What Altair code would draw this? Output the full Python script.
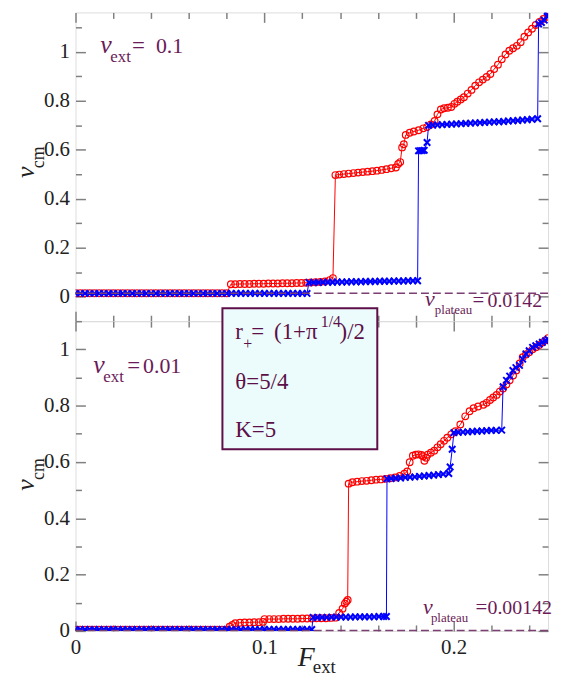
import altair as alt
import pandas as pd

FONT = "Liberation Serif"
PURPLE = "#6a1b58"
BOX_EDGE = "#5c0f48"
DASH = "#7b3f72"
RED = "#ff0000"
BLUE = "#0000ff"
AXIS_GRAY = "#808080"
LABEL = "#222222"

# ---------------- data ----------------
# top panel (v_ext = 0.1)
TOP_RED_F = [0, 0.0025, 0.005, 0.0075, 0.01, 0.0125, 0.015, 0.0175, 0.02, 0.0225, 0.025, 0.0275,
             0.03, 0.0325, 0.035, 0.0375, 0.04, 0.0425, 0.045, 0.0475, 0.05, 0.0525, 0.055, 0.0575,
             0.06, 0.0625, 0.065, 0.0675, 0.07, 0.0725, 0.075, 0.0775, 0.08,
             0.0822, 0.0845, 0.087, 0.0895, 0.092, 0.0945, 0.097, 0.0995, 0.102, 0.1045, 0.107,
             0.1095, 0.112, 0.1145, 0.117, 0.1195, 0.122, 0.1245, 0.127, 0.1295, 0.132, 0.1345, 0.1362,
             0.1375, 0.1395, 0.142, 0.1445, 0.147, 0.1495, 0.152, 0.1545, 0.157, 0.1595, 0.162, 0.1645,
             0.167, 0.1695, 0.1707, 0.1718, 0.1728, 0.1737, 0.1747, 0.1768, 0.179, 0.1815, 0.184, 0.186,
             0.188, 0.190, 0.1915, 0.1933, 0.195, 0.197, 0.1988, 0.2005, 0.202, 0.2038, 0.2055, 0.2075,
             0.2095, 0.2115, 0.2135, 0.2155, 0.2175, 0.2195, 0.2215, 0.2235, 0.2255, 0.2275, 0.2295,
             0.2315, 0.2335, 0.2355, 0.2375, 0.2395, 0.2415, 0.2435, 0.2455, 0.2475, 0.25]
TOP_RED_V = [0.014, 0.014, 0.014, 0.014, 0.014, 0.014, 0.014, 0.014, 0.014, 0.014, 0.014, 0.014,
             0.014, 0.014, 0.014, 0.014, 0.014, 0.014, 0.014, 0.014, 0.014, 0.014, 0.014, 0.014,
             0.014, 0.014, 0.014, 0.014, 0.014, 0.014, 0.014, 0.014, 0.014,
             0.051, 0.051, 0.052, 0.052, 0.052, 0.053, 0.053, 0.053, 0.054, 0.054, 0.054,
             0.055, 0.055, 0.055, 0.056, 0.056, 0.057, 0.058, 0.059, 0.060, 0.062, 0.068, 0.076,
             0.497, 0.499, 0.501, 0.503, 0.505, 0.507, 0.509, 0.511, 0.513, 0.515, 0.518, 0.521,
             0.525, 0.528, 0.542, 0.55, 0.61, 0.623, 0.661, 0.67, 0.675, 0.68, 0.688, 0.693,
             0.704, 0.718, 0.745, 0.765, 0.77, 0.772, 0.775, 0.788, 0.797, 0.806, 0.815, 0.83,
             0.845, 0.862, 0.876, 0.887, 0.898, 0.91, 0.93, 0.948, 0.97, 0.99, 1.005,
             1.015, 1.025, 1.04, 1.062, 1.08, 1.095, 1.11, 1.123, 1.135, 1.144]

TOP_BLUE_F = [0, 0.0025, 0.005, 0.0075, 0.01, 0.0125, 0.015, 0.0175, 0.02, 0.0225, 0.025, 0.0275,
              0.03, 0.0325, 0.035, 0.0375, 0.04, 0.0425, 0.045, 0.0475, 0.05, 0.0525, 0.055, 0.0575,
              0.06, 0.0625, 0.065, 0.0675, 0.07, 0.0725, 0.075, 0.0775, 0.08, 0.0825, 0.085, 0.0875,
              0.09, 0.0925, 0.095, 0.0975, 0.1, 0.1025, 0.105, 0.1075, 0.11, 0.1125, 0.115, 0.1175,
              0.12, 0.1225,
              0.1235, 0.126, 0.1285, 0.131, 0.1335, 0.136, 0.1385, 0.141, 0.1435, 0.146, 0.1485, 0.151,
              0.1535, 0.156, 0.1585, 0.161, 0.1635, 0.166, 0.1685, 0.171, 0.1735, 0.176, 0.1785, 0.181,
              0.1815, 0.1825, 0.1835, 0.1845, 0.186, 0.1868,
              0.189, 0.1915, 0.194, 0.1965, 0.199, 0.2015, 0.204, 0.2065, 0.209, 0.2115, 0.214, 0.2165,
              0.219, 0.2215, 0.224, 0.2265, 0.229, 0.2315, 0.234, 0.2365, 0.239, 0.2415, 0.2445,
              0.245, 0.2465, 0.248, 0.2495, 0.25]
TOP_BLUE_V = [0.0135, 0.0135, 0.0135, 0.0135, 0.0135, 0.0135, 0.0135, 0.0135, 0.0135, 0.0135, 0.0135, 0.0135,
              0.0135, 0.0135, 0.0135, 0.0135, 0.0135, 0.0135, 0.0135, 0.0135, 0.0135, 0.0135, 0.0135, 0.0135,
              0.0135, 0.0135, 0.0135, 0.0135, 0.0135, 0.0135, 0.0135, 0.0135, 0.0135, 0.0135, 0.0135, 0.0135,
              0.0135, 0.0135, 0.0135, 0.0135, 0.0135, 0.0135, 0.0135, 0.0135, 0.0135, 0.0135, 0.0135, 0.0135,
              0.0135, 0.0135,
              0.058, 0.058, 0.058, 0.059, 0.059, 0.059, 0.06, 0.06, 0.06, 0.061, 0.061, 0.061,
              0.062, 0.062, 0.062, 0.063, 0.063, 0.063, 0.064, 0.064, 0.064, 0.065, 0.065, 0.065,
              0.596, 0.597, 0.597, 0.598, 0.63, 0.70,
              0.701, 0.702, 0.703, 0.704, 0.705, 0.706, 0.707, 0.708, 0.709, 0.71, 0.711, 0.712,
              0.713, 0.714, 0.715, 0.716, 0.718, 0.719, 0.72, 0.722, 0.723, 0.725, 0.727,
              1.114, 1.12, 1.13, 1.145, 1.15]

# bottom panel (v_ext = 0.01)
BOT_RED_F = [0, 0.0025, 0.005, 0.0075, 0.01, 0.0125, 0.015, 0.0175, 0.02, 0.0225, 0.025, 0.0275,
             0.03, 0.0325, 0.035, 0.0375, 0.04, 0.0425, 0.045, 0.0475, 0.05, 0.0525, 0.055, 0.0575,
             0.06, 0.0625, 0.065, 0.0675, 0.07, 0.0725, 0.075, 0.0775, 0.08,
             0.0815, 0.083, 0.0845, 0.087, 0.0895, 0.092, 0.0945, 0.097, 0.0992,
             0.1, 0.1025, 0.105, 0.1075, 0.11, 0.1125, 0.115, 0.1175, 0.12, 0.1225, 0.125, 0.1275,
             0.13, 0.1325, 0.135, 0.1375, 0.1395, 0.1413, 0.1425, 0.1433, 0.144,
             0.1445, 0.1465, 0.149, 0.1515, 0.154, 0.1565, 0.159, 0.1615, 0.164, 0.1665, 0.169, 0.1715,
             0.174, 0.1755, 0.1768, 0.1785, 0.18, 0.1815, 0.183, 0.1838, 0.1846, 0.1855, 0.1863, 0.188,
             0.1898, 0.1915, 0.1932, 0.195, 0.1967, 0.1988, 0.201, 0.2036, 0.2062, 0.2085, 0.2106, 0.213,
             0.2158, 0.2175, 0.2193, 0.221, 0.2228, 0.2245, 0.2262, 0.228, 0.2297, 0.2315, 0.2332, 0.235,
             0.2366, 0.2383, 0.24, 0.2418, 0.2436, 0.2453, 0.247, 0.2485, 0.25]
BOT_RED_V = [0.004, 0.004, 0.004, 0.004, 0.004, 0.004, 0.004, 0.004, 0.004, 0.004, 0.004, 0.004,
             0.004, 0.004, 0.004, 0.004, 0.004, 0.004, 0.004, 0.004, 0.004, 0.004, 0.004, 0.004,
             0.004, 0.004, 0.004, 0.004, 0.004, 0.004, 0.004, 0.004, 0.004,
             0.015, 0.021, 0.027, 0.029, 0.030, 0.030, 0.031, 0.031, 0.032,
             0.042, 0.042, 0.042, 0.042, 0.043, 0.043, 0.043, 0.043, 0.044, 0.044, 0.044, 0.045,
             0.045, 0.045, 0.046, 0.047, 0.064, 0.079, 0.097, 0.104, 0.11,
             0.523, 0.528, 0.53, 0.532, 0.533, 0.535, 0.537, 0.538, 0.54, 0.542, 0.545, 0.55,
             0.558, 0.566, 0.599, 0.622, 0.626, 0.627, 0.625, 0.62, 0.604, 0.615, 0.626, 0.633,
             0.64, 0.652, 0.663, 0.675, 0.686, 0.698, 0.709, 0.733, 0.762, 0.78, 0.791, 0.797,
             0.803, 0.81, 0.82, 0.829, 0.838, 0.85, 0.861, 0.875, 0.89, 0.907, 0.925, 0.95,
             0.972, 0.982, 0.99, 1.0, 1.007, 1.015, 1.024, 1.032, 1.04]

BOT_BLUE_F = [0, 0.0025, 0.005, 0.0075, 0.01, 0.0125, 0.015, 0.0175, 0.02, 0.0225, 0.025, 0.0275,
              0.03, 0.0325, 0.035, 0.0375, 0.04, 0.0425, 0.045, 0.0475, 0.05, 0.0525, 0.055, 0.0575,
              0.06, 0.0625, 0.065, 0.0675, 0.07, 0.0725, 0.075, 0.0775, 0.08, 0.0825, 0.085, 0.0875,
              0.09, 0.0925, 0.095, 0.0975, 0.1, 0.1025, 0.105, 0.1075, 0.11, 0.1125, 0.115, 0.1175,
              0.12, 0.1225, 0.125,
              0.1257, 0.128, 0.1305, 0.133, 0.1355, 0.138, 0.1405, 0.143, 0.1455, 0.148, 0.1505, 0.153,
              0.1555, 0.158, 0.1605, 0.163, 0.1645,
              0.1648, 0.167, 0.1695, 0.172, 0.1745, 0.177, 0.1795, 0.182, 0.1845, 0.187, 0.1895, 0.192,
              0.1945, 0.1975, 0.1982, 0.1993, 0.2002,
              0.2025, 0.205, 0.2075, 0.21, 0.2125, 0.215, 0.2175, 0.22, 0.2225, 0.2255,
              0.2262, 0.228, 0.2297, 0.2314, 0.233, 0.2349, 0.2366, 0.2383, 0.24, 0.2418, 0.2435,
              0.2453, 0.247, 0.2487, 0.25]
BOT_BLUE_V = [0.005, 0.005, 0.005, 0.005, 0.005, 0.005, 0.005, 0.005, 0.005, 0.005, 0.005, 0.005,
              0.005, 0.005, 0.005, 0.005, 0.005, 0.005, 0.005, 0.005, 0.005, 0.005, 0.005, 0.005,
              0.005, 0.005, 0.005, 0.005, 0.005, 0.005, 0.005, 0.005, 0.005, 0.005, 0.005, 0.005,
              0.005, 0.005, 0.005, 0.005, 0.005, 0.005, 0.005, 0.005, 0.005, 0.005, 0.005, 0.005,
              0.005, 0.005, 0.005,
              0.048, 0.048, 0.048, 0.048, 0.049, 0.049, 0.049, 0.049, 0.049, 0.05, 0.05, 0.05,
              0.05, 0.05, 0.051, 0.051, 0.051,
              0.54, 0.541, 0.542, 0.543, 0.545, 0.546, 0.547, 0.549, 0.55, 0.552, 0.553, 0.555,
              0.557, 0.559, 0.582, 0.645, 0.704,
              0.705, 0.706, 0.707, 0.708, 0.709, 0.71, 0.711, 0.712, 0.712, 0.713,
              0.867, 0.89, 0.905, 0.925, 0.935, 0.943, 0.965, 0.984, 0.995, 1.007, 1.013,
              1.019, 1.025, 1.03, 1.035]

V_PLATEAU_TOP = [0.0142]
V_PLATEAU_BOT = [0.00142]

X_DOMAIN = [0, 0.25]
Y_DOMAIN_TOP = [-0.1, 1.1615]
Y_DOMAIN_BOT = [0, 1.1]
X_MAJOR = [0, 0.1, 0.2]
X_MINOR = [0.02, 0.04, 0.06, 0.08, 0.12, 0.14, 0.16, 0.18, 0.22, 0.24]
Y_MAJOR = [0, 0.2, 0.4, 0.6, 0.8, 1.0]
Y_MINOR = [0.1, 0.3, 0.5, 0.7, 0.9, 1.1]

W = 476
H_TOP = 311
H_BOT = 312

ONE = pd.DataFrame({"k": [0]})


def txt(s, x, y, size, italic=False, color=PURPLE, angle=0, align="left", baseline="alphabetic"):
    kw = dict(text=s, font=FONT, fontSize=size, color=color, align=align, baseline=baseline)
    if italic:
        kw["fontStyle"] = "italic"
    if angle:
        kw["angle"] = angle
    return alt.Chart(ONE).mark_text(**kw).encode(x=alt.value(x), y=alt.value(y))


def make_axis(orient, values, size, labels):
    return alt.Axis(orient=orient, values=values, tickSize=size, offset=-size, domain=False,
                    grid=False, labels=labels, title=None, tickColor=AXIS_GRAY, tickWidth=1.5,
                    labelFont=FONT, labelFontSize=21, labelColor=LABEL, labelPadding=6,
                    labelFlush=False, format=".1~f")


def panel(rf, rv, bf, bv, plateau, ydom, h, x_labels, extras):
    red = pd.DataFrame({"F": rf, "v": rv, "i": list(range(len(rf)))})
    blue = pd.DataFrame({"F": bf, "v": bv, "i": list(range(len(bf)))})
    xs = alt.Scale(domain=X_DOMAIN, nice=False, zero=False)
    ys = alt.Scale(domain=ydom, nice=False, zero=False)

    red_line = alt.Chart(red).mark_line(color=RED, strokeWidth=1, clip=True).encode(
        x=alt.X("F:Q", scale=xs, axis=make_axis("bottom", X_MAJOR, 10, x_labels)),
        y=alt.Y("v:Q", scale=ys, axis=make_axis("left", Y_MAJOR, 10, True)),
        order="i:Q")
    red_pts = alt.Chart(red).mark_point(shape="circle", filled=False, color=RED, size=45,
                                        strokeWidth=1.2, opacity=1, clip=True).encode(
        x=alt.X("F:Q", scale=xs, axis=make_axis("bottom", X_MINOR, 6, False)),
        y=alt.Y("v:Q", scale=ys, axis=make_axis("left", Y_MINOR, 6, False)))
    blue_line = alt.Chart(blue).mark_line(color=BLUE, strokeWidth=1, clip=True).encode(
        x=alt.X("F:Q", scale=xs, axis=make_axis("top", X_MAJOR, 10, False)),
        y=alt.Y("v:Q", scale=ys, axis=make_axis("right", Y_MAJOR, 10, False)),
        order="i:Q")
    blue_pts = alt.Chart(blue).mark_point(shape="M-1,-1L1,1M-1,1L1,-1", filled=False, color=BLUE,
                                          size=42, strokeWidth=2, opacity=1, clip=True).encode(
        x=alt.X("F:Q", scale=xs, axis=make_axis("top", X_MINOR, 6, False)),
        y=alt.Y("v:Q", scale=ys, axis=make_axis("right", Y_MINOR, 6, False)))
    dash = alt.Chart(pd.DataFrame({"v": plateau})).mark_rule(
        color=DASH, strokeWidth=1.5, strokeDash=[8, 4]).encode(
        y=alt.Y("v:Q", scale=ys, axis=None))
    layers = [red_line, red_pts, blue_line, blue_pts, dash] + extras
    return alt.layer(*layers).resolve_axis(x="independent", y="independent").properties(
        width=W, height=h)


top_extras = [
    txt("v", 25, 41, 26, italic=True),
    txt("ext", 35, 50, 17),
    txt("=", 57, 41, 23),
    txt("0.1", 81, 41, 22),
    txt("v", 352, 296, 22, italic=True),
    txt("plateau", 362, 304, 13),
    txt("=", 400, 297, 21),
    txt("0.0142", 415, 297, 20),
    txt("v", -42, 161, 26, italic=True, color=LABEL, angle=270, align="center"),
    txt("cm", -32, 146, 18, color=LABEL, angle=270, align="center"),
]

box = alt.Chart(ONE).mark_rect(fill="#ecfcfc", stroke=BOX_EDGE, strokeWidth=2).encode(
    x=alt.value(148), x2=alt.value(304), y=alt.value(-13), y2=alt.value(129))

bot_extras = [
    txt("v", 18, 52, 26, italic=True),
    txt("ext", 28, 61, 17),
    txt("=", 52, 52, 23),
    txt("0.01", 68, 52, 22),
    txt("v", 350, 295, 22, italic=True),
    txt("plateau", 358, 303, 13),
    txt("=", 403, 295, 21),
    txt("0.00142", 415, 295, 20),
    box,
    txt("r", 161, 18, 23, color=BOX_EDGE),
    txt("+", 169, 28, 16, color=BOX_EDGE),
    txt("=", 177, 18, 23, color=BOX_EDGE),
    txt("(1+π", 200, 18, 23, color=BOX_EDGE),
    txt("1/4", 247, 6, 16, color=BOX_EDGE),
    txt(")/2", 266, 18, 23, color=BOX_EDGE),
    txt("θ=5/4", 161, 68, 23, color=BOX_EDGE),
    txt("K=5", 161, 117, 23, color=BOX_EDGE),
    txt("v", -42, 165, 26, italic=True, color=LABEL, angle=270, align="center"),
    txt("cm", -32, 149, 18, color=LABEL, angle=270, align="center"),
    txt("F", 224, 347, 28, italic=True, color=LABEL),
    txt("ext", 239, 354, 19, color=LABEL),
]

top = panel(TOP_RED_F, TOP_RED_V, TOP_BLUE_F, TOP_BLUE_V, V_PLATEAU_TOP, Y_DOMAIN_TOP, H_TOP,
            False, top_extras)
bot = panel(BOT_RED_F, BOT_RED_V, BOT_BLUE_F, BOT_BLUE_V, V_PLATEAU_BOT, Y_DOMAIN_BOT, H_BOT,
            True, bot_extras)

chart = alt.vconcat(top, bot, spacing=0, bounds="flush").properties(
    padding={"left": 4, "top": 0, "right": 0, "bottom": 0}
).configure_view(stroke=AXIS_GRAY, strokeWidth=2).configure_axis(
    labelFont=FONT).configure(background="white")

chart.save("out.html", embed_options={"renderer": "svg", "actions": False})
